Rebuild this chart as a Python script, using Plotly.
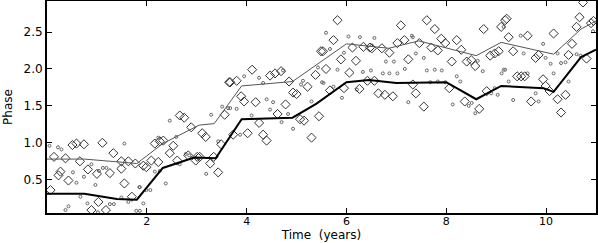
import plotly.graph_objects as go

# Fitted lines (knots)
upper_x = [0, 0.75, 1.8, 2.32, 3.05, 3.35, 3.9, 4.92, 6.0, 6.85, 7.45, 8.6, 9.1, 10.15, 10.7, 11.0]
upper_y = [0.78, 0.78, 0.72, 0.99, 1.24, 1.26, 1.77, 1.83, 2.34, 2.28, 2.38, 2.18, 2.36, 2.20, 2.54, 2.65]
lower_x = [0, 0.75, 1.4, 1.8, 2.32, 2.95, 3.38, 3.9, 4.92, 5.4, 6.0, 6.45, 7.0, 8.0, 8.6, 9.1, 9.95, 10.15, 10.7, 11.0]
lower_y = [0.31, 0.31, 0.24, 0.23, 0.66, 0.80, 0.79, 1.32, 1.34, 1.53, 1.82, 1.85, 1.81, 1.82, 1.59, 1.77, 1.74, 1.69, 2.16, 2.26]

# Diamond observations
dia_x = [0.14, 0.37, 0.51, 0.59, 0.74, 1.11, 1.33, 0.66, 1.49, 1.63, 1.77, 0.27, 0.23, 0.43, 0.82, 1.00, 1.26, 1.49, 1.55, 0.07, 1.03, 0.89, 1.18, 1.70,
         3.65, 2.66, 2.75, 3.56, 2.89, 3.11, 3.18, 2.33, 2.26, 2.16, 2.53, 2.46, 3.49, 1.93, 1.99, 2.09, 2.23, 2.61, 2.83, 3.01, 3.06, 2.98, 3.34, 3.27, 3.43,
         5.49, 4.11, 4.69, 4.57, 4.47, 5.38, 3.67, 3.80, 4.85, 5.22, 4.93, 5.00, 3.89, 3.95, 4.18, 4.78, 4.62, 5.45, 4.25, 5.07, 5.15, 3.73, 4.02, 4.33, 4.40, 5.30,
         5.82, 7.09, 5.74, 5.53, 6.12, 6.34, 6.47, 6.51, 6.71, 6.86, 7.02, 7.16, 5.89, 6.19, 7.24, 5.59, 6.06, 5.67, 5.95, 6.26, 6.42, 6.56, 6.64, 6.77, 6.93, 7.33,
         7.61, 7.77, 8.75, 9.10, 9.18, 7.46, 7.90, 7.98, 8.21, 7.70, 7.83, 8.30, 8.88, 8.97, 9.05, 8.11, 8.41, 8.50, 8.58, 7.39, 8.06, 8.81, 7.55, 8.37, 8.66,
         10.74, 10.67, 10.61, 10.90, 10.95, 9.21, 9.25, 9.63, 10.15, 10.52, 9.34, 9.85, 9.79, 10.45, 10.81, 9.42, 9.50, 9.57, 9.94, 9.99, 10.07, 10.23, 10.39, 9.70, 10.30]
dia_y = [0.81, 0.79, 0.97, 0.99, 0.98, 1.00, 0.86, 0.75, 0.75, 0.75, 0.72, 0.61, 0.56, 0.49, 0.64, 0.58, 0.59, 0.65, 0.45, 0.36, 0.20, 0.09, 0.09, 0.27,
         1.82, 1.37, 1.34, 1.38, 1.21, 1.13, 1.08, 1.03, 1.02, 0.99, 0.96, 0.86, 0.98, 0.69, 0.67, 0.76, 0.74, 0.76, 0.83, 0.81, 0.81, 0.76, 0.81, 0.72, 0.60,
         2.24, 1.99, 1.97, 1.94, 1.91, 1.92, 1.82, 1.84, 1.83, 1.76, 1.68, 1.66, 1.63, 1.56, 1.55, 1.52, 1.39, 1.36, 1.27, 1.32, 1.30, 1.11, 1.13, 1.11, 1.03, 1.07,
         2.66, 2.59, 2.39, 2.24, 2.29, 2.30, 2.29, 2.28, 2.28, 2.22, 2.35, 2.39, 2.13, 2.11, 2.13, 2.00, 1.95, 1.71, 1.74, 1.73, 1.84, 1.84, 1.67, 1.65, 1.63, 1.79,
         2.66, 2.54, 2.54, 2.57, 2.66, 2.35, 2.41, 2.35, 2.39, 2.29, 2.25, 2.26, 2.18, 2.21, 2.24, 2.10, 2.10, 2.12, 2.04, 1.67, 1.74, 1.70, 1.49, 1.56, 1.46,
         2.90, 2.70, 2.57, 2.62, 2.65, 2.68, 2.43, 2.45, 2.48, 2.34, 2.24, 2.19, 2.15, 2.19, 2.14, 1.90, 1.90, 1.90, 1.86, 1.77, 1.70, 1.59, 1.65, 1.56, 1.41]

# Small circle observations
dot_x = [0.05, 0.22, 0.29, 1.55, 0.52, 0.74, 0.89, 1.04, 1.12, 1.19, 0.59, 0.97, 0.67, 0.81, 1.26, 1.34, 0.43, 0.37, 1.02, 1.49, 1.63, 1.79, 1.85,
         2.46, 2.59, 3.29, 3.51, 3.63, 2.23, 3.43, 2.78, 2.85, 2.16, 2.26, 2.38, 2.66, 3.19, 1.86, 1.99, 2.07, 1.93, 1.86,
         3.95, 4.25, 4.33, 4.73, 5.13, 5.09, 5.43, 5.51, 4.40, 4.53, 4.47, 5.30, 3.67, 3.80, 4.10, 4.83, 4.70, 4.93, 3.87,
         5.59, 6.04, 6.27, 6.56, 7.33, 5.67, 5.95, 6.79, 6.95, 5.82, 6.33, 6.49, 6.73, 6.86, 7.02, 7.17, 5.54, 5.74, 6.21, 5.91, 7.24,
         7.39, 7.55, 7.61, 7.77, 7.91, 8.21, 8.28, 8.73, 9.11, 9.18, 7.68, 7.83, 7.98, 8.13, 8.51, 8.45, 8.58, 8.90, 9.03, 8.97, 7.31, 8.63,
         9.15, 9.49, 9.94, 9.55, 9.99, 10.23, 10.61, 10.69, 9.15, 9.25, 9.63, 10.09, 10.30, 10.39, 10.15, 10.45, 9.34, 9.79, 9.85, 10.94]
dot_y = [0.96, 0.94, 0.91, 0.99, 0.60, 0.54, 0.71, 0.62, 0.66, 0.66, 0.46, 0.43, 0.27, 0.18, 0.17, 0.17, 0.14, 0.09, 0.06, 0.26, 0.20, 0.08, 0.40,
         1.30, 1.08, 1.38, 1.49, 1.47, 1.07, 1.02, 0.85, 0.83, 0.61, 0.62, 0.45, 0.71, 0.58, 0.40, 0.36, 0.36, 0.18, 0.08,
         1.90, 1.88, 1.81, 1.98, 1.84, 1.79, 2.02, 1.82, 1.59, 1.55, 1.45, 1.56, 1.47, 1.46, 1.37, 1.39, 1.28, 1.19, 1.11,
         2.49, 2.44, 2.43, 2.42, 2.43, 2.27, 2.22, 2.10, 2.10, 1.99, 1.96, 1.98, 1.94, 1.94, 1.94, 2.00, 1.81, 1.76, 1.72, 1.61, 1.55,
         2.21, 2.15, 1.98, 1.99, 1.98, 1.90, 1.83, 1.97, 1.94, 1.99, 1.82, 1.83, 1.82, 1.52, 1.54, 1.50, 1.40, 1.67, 1.65, 1.74, 2.45, 2.11,
         2.57, 2.45, 2.34, 2.21, 2.15, 2.21, 2.20, 2.18, 1.99, 1.83, 1.94, 2.07, 2.08, 2.09, 1.94, 1.83, 1.58, 1.67, 1.56, 2.51]

x_tickvals = [2, 4, 6, 8, 10]
y_tickvals = [0.5, 1.0, 1.5, 2.0, 2.5]
y_ticktext = ["0.5", "1.0", "1.5", "2.0", "2.5"]

fig = go.Figure()
fig.add_trace(go.Scatter(x=dot_x, y=dot_y, mode="markers",
                         marker=dict(symbol="circle-open", size=3, color="#666666", line=dict(width=1))))
fig.add_trace(go.Scatter(x=dia_x, y=dia_y, mode="markers",
                         marker=dict(symbol="diamond-open", size=7, color="#333333", line=dict(width=1))))
fig.add_trace(go.Scatter(x=upper_x, y=upper_y, mode="lines", line=dict(color="#555555", width=1)))
fig.add_trace(go.Scatter(x=lower_x, y=lower_y, mode="lines", line=dict(color="black", width=2)))

axis_common = dict(showline=True, linecolor="black", linewidth=2, mirror="ticks",
                   ticks="inside", ticklen=5, tickwidth=1, tickcolor="black",
                   showgrid=False, zeroline=False)

fig.update_layout(
    width=598, height=243,
    margin=dict(l=47, r=2, t=1, b=30, autoexpand=False),
    paper_bgcolor="white", plot_bgcolor="white",
    showlegend=False,
    xaxis=dict(range=[0, 11], tickvals=x_tickvals,
               tickfont=dict(family="DejaVu Sans", size=11, color="black"),
               ticklabelstandoff=-3,
               title=dict(text="Time  (years)", font=dict(family="DejaVu Sans", size=12, color="black"), standoff=0),
               automargin=False,
               **axis_common),
    yaxis=dict(range=[0.05, 2.92], tickvals=y_tickvals, ticktext=y_ticktext,
               tickfont=dict(family="DejaVu Sans", size=12, color="black"),
               title=dict(text="Phase", font=dict(family="DejaVu Sans", size=12, color="black"), standoff=8),
               automargin=False,
               **axis_common),
)

fig.write_html("out.html", config={"displayModeBar": False},
               post_script="document.body.style.margin='0px';document.body.style.padding='0px';")
